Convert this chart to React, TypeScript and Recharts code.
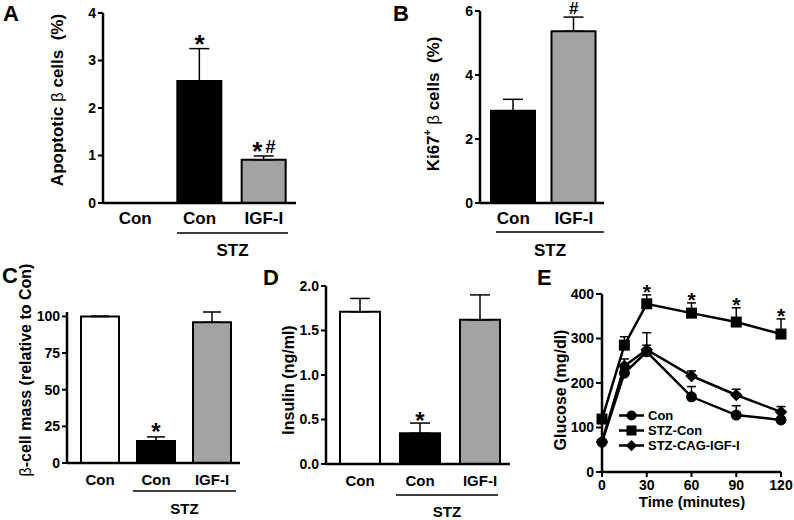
import React from "react";
import {
  BarChart,
  Bar,
  Cell,
  LineChart,
  Line,
  XAxis,
  YAxis,
  ErrorBar,
  ReferenceDot,
  Legend,
} from "recharts";

const FONT = '"Liberation Sans", Arial, Helvetica, sans-serif';
const GREY = "#a3a3a3";

// A - apoptotic beta cells (%)
const aGroups = ["Con", "STZ-Con", "STZ-IGF-I"];
const aTicks = ["Con", "Con", "IGF-I"];
const aValues = [0, 2.57, 0.91];
const aErrors = [0, 0.68, 0.08];
const aMarks = ["", "*", "*#"];

// B - Ki67+ beta cells (%)
const bGroups = ["STZ-Con", "STZ-IGF-I"];
const bTicks = ["Con", "IGF-I"];
const bValues = [2.88, 5.37];
const bErrors = [0.36, 0.44];
const bMarks = ["", "#"];

// C - beta-cell mass (relative to Con)
const cGroups = ["Con", "STZ-Con", "STZ-IGF-I"];
const cTicks = ["Con", "Con", "IGF-I"];
const cValues = [100, 15, 96];
const cErrors = [0, 2.8, 7];
const cMarks = ["", "*", ""];

// D - insulin (ng/ml)
const dGroups = ["Con", "STZ-Con", "STZ-IGF-I"];
const dTicks = ["Con", "Con", "IGF-I"];
const dValues = [1.71, 0.345, 1.62];
const dErrors = [0.15, 0.115, 0.28];
const dMarks = ["", "*", ""];

// E - glucose tolerance (mg/dl)
const timePoints = [0, 15, 30, 60, 90, 120];
const conGlucose = [67, 222, 270, 169, 128, 117];
const conErr = [3, 10, 43, 23, 21, 5];
const stzGlucose = [119, 285, 378, 357, 337, 310];
const stzErr = [8, 19, 20, 23, 32, 34];
const igfGlucose = [68, 238, 275, 216, 173, 135];
const igfErr = [4, 16, 10, 11, 13, 12];
const stzStars = [false, false, true, true, true, true];

const axisLine = { stroke: "#000", strokeWidth: 2.5 };
const tickLine = { stroke: "#000", strokeWidth: 2 };
const tickText = (size: number) => ({
  fill: "#000",
  fontSize: size,
  fontWeight: 700,
  fontFamily: FONT,
});

// significance marks: big asterisk, normal-size hash raised to the star's middle
const markLabel = (mark: string, starSize: number, hashSize: number, gap: number) =>
  (props: any) => {
    const vb = props.viewBox || {};
    const x = vb.x + (vb.width || 0) / 2;
    const y = vb.y - gap;
    return (
      <text x={x} y={y} textAnchor="middle" fill="#000" fontFamily={FONT} fontWeight={700}>
        {mark.split("").map((ch, i) => (
          <tspan
            key={i}
            fontSize={ch === "*" ? starSize : hashSize}
            dx={i > 0 ? 3 : 0}
            dy={i > 0 ? -7 : 0}
          >
            {ch}
          </tspan>
        ))}
      </text>
    );
  };

const Y_W = 44;
const M_TOP = 16;
const M_RIGHT = 8;
const X_H = 40;

type BarPanelProps = {
  left: number;
  top: number;
  plotW: number;
  plotH: number;
  padLeft: number;
  groups: string[];
  ticks: string[];
  values: number[];
  errors: number[];
  marks: string[];
  fills: string[];
  domain: [number, number];
  yTicks: number[];
  barSize: number;
  capWidth: number;
  catFont: number;
  catMargin: number;
  starSize: number;
  hashSize: number;
  markGap: number;
  fmt?: (v: number) => string;
};

const BarPanel = (p: BarPanelProps) => {
  const data = p.groups.map((g, i) => ({
    group: g,
    value: p.values[i],
    err: [0, p.errors[i]],
  }));
  return (
    <div style={{ position: "absolute", left: p.left - Y_W, top: p.top - M_TOP }}>
      <BarChart
        width={p.plotW + Y_W + M_RIGHT}
        height={p.plotH + M_TOP + X_H}
        data={data}
        margin={{ top: M_TOP, right: M_RIGHT, left: 0, bottom: 0 }}
      >
        <XAxis
          dataKey="group"
          height={X_H}
          interval={0}
          padding={{ left: p.padLeft, right: 0 }}
          axisLine={axisLine}
          tickLine={false}
          tickSize={6}
          tickMargin={p.catMargin}
          tick={tickText(p.catFont)}
          tickFormatter={(_v: string, i: number) => p.ticks[i]}
        />
        <YAxis
          width={Y_W}
          domain={p.domain}
          ticks={p.yTicks}
          interval={0}
          axisLine={axisLine}
          tickLine={tickLine}
          tickSize={5}
          tickMargin={2}
          tick={tickText(14)}
          tickFormatter={p.fmt}
        />
        <Bar dataKey="value" barSize={p.barSize} stroke="#000" strokeWidth={2} isAnimationActive={false}>
          {data.map((d, i) => (
            <Cell key={d.group} fill={p.fills[i]} />
          ))}
          <ErrorBar dataKey="err" direction="y" width={p.capWidth} stroke="#000" strokeWidth={1.5} />
        </Bar>
        {p.marks.map((m, i) =>
          m ? (
            <ReferenceDot
              key={i}
              x={p.groups[i]}
              y={p.values[i] + p.errors[i]}
              r={0}
              fill="none"
              stroke="none"
              label={markLabel(m, p.starSize, p.hashSize, p.markGap)}
            />
          ) : null
        )}
      </BarChart>
    </div>
  );
};

type Shape = "circle" | "square" | "diamond";

const Marker = ({ shape, cx, cy, s }: { shape: Shape; cx: number; cy: number; s: number }) => {
  if (shape === "circle") return <circle cx={cx} cy={cy} r={s} fill="#000" />;
  if (shape === "square")
    return <rect x={cx - s} y={cy - s} width={2 * s} height={2 * s} fill="#000" />;
  const d = s * 1.25;
  return (
    <polygon
      points={`${cx},${cy - d} ${cx + d},${cy} ${cx},${cy + d} ${cx - d},${cy}`}
      fill="#000"
    />
  );
};

const eSeries: { key: string; err: string; name: string; shape: Shape; size: number }[] = [
  { key: "con", err: "conErr", name: "Con", shape: "circle", size: 5.5 },
  { key: "stz", err: "stzErr", name: "STZ-Con", shape: "square", size: 5.5 },
  { key: "igf", err: "igfErr", name: "STZ-CAG-IGF-I", shape: "diamond", size: 5 },
];

const GlucoseLegend = () => (
  <div style={{ fontFamily: FONT, fontWeight: 700, fontSize: 13, lineHeight: "15px" }}>
    {eSeries.map((s) => (
      <div key={s.key} style={{ display: "flex", alignItems: "center", height: 15 }}>
        <svg width={30} height={15}>
          <line x1={1} x2={26} y1={7.5} y2={7.5} stroke="#000" strokeWidth={2.5} />
          <Marker shape={s.shape} cx={13.5} cy={7.5} s={s.size - 0.5} />
        </svg>
        <span>{s.name}</span>
      </div>
    ))}
  </div>
);

const GlucosePanel = () => {
  const data = timePoints.map((t, i) => ({
    t,
    con: conGlucose[i],
    conErr: [0, conErr[i]],
    stz: stzGlucose[i],
    stzErr: [0, stzErr[i]],
    igf: igfGlucose[i],
    igfErr: [0, igfErr[i]],
  }));
  const left = 602;
  const top = 294;
  const plotW = 179;
  const plotH = 178;
  return (
    <div style={{ position: "absolute", left: left - Y_W, top: top - 14 }}>
      <LineChart
        width={plotW + Y_W + 14}
        height={plotH + 14 + 48}
        data={data}
        margin={{ top: 14, right: 14, left: 0, bottom: 0 }}
      >
        <XAxis
          dataKey="t"
          type="number"
          domain={[0, 120]}
          ticks={[0, 30, 60, 90, 120]}
          interval={0}
          height={48}
          axisLine={axisLine}
          tickLine={tickLine}
          tickSize={5}
          tickMargin={3}
          tick={tickText(14)}
        />
        <YAxis
          width={Y_W}
          domain={[0, 400]}
          ticks={[0, 100, 200, 300, 400]}
          interval={0}
          axisLine={axisLine}
          tickLine={tickLine}
          tickSize={6}
          tickMargin={2}
          tick={tickText(14)}
        />
        {eSeries.map((s) => (
          <Line
            key={s.key}
            dataKey={s.key}
            name={s.name}
            stroke="#000"
            strokeWidth={2.5}
            isAnimationActive={false}
            dot={(props: any) => (
              <Marker key={`${s.key}-${props.index}`} shape={s.shape} cx={props.cx} cy={props.cy} s={s.size} />
            )}
          >
            <ErrorBar dataKey={s.err} direction="y" width={4.5} stroke="#000" strokeWidth={1.5} />
          </Line>
        ))}
        {timePoints.map((t, i) =>
          stzStars[i] ? (
            <ReferenceDot
              key={t}
              x={t}
              y={stzGlucose[i] + stzErr[i]}
              r={0}
              fill="none"
              stroke="none"
              label={markLabel("*", 21, 15, -4)}
            />
          ) : null
        )}
        <Legend
          layout="vertical"
          align="center"
          verticalAlign="middle"
          content={() => <GlucoseLegend />}
          wrapperStyle={{ left: 60, top: 128, width: "auto" }}
        />
      </LineChart>
    </div>
  );
};

const Overlay = () => {
  const t = { fontFamily: FONT, fontWeight: 700, fill: "#000" } as const;
  const vTitle = (cx: number, cy: number, size: number, children: React.ReactNode) => (
    <text
      transform={`translate(${cx},${cy}) rotate(-90)`}
      textAnchor="middle"
      dominantBaseline="central"
      fontSize={size}
      style={{ ...t, whiteSpace: "pre" }}
    >
      {children}
    </text>
  );
  const stz = (x1: number, x2: number, y: number, ty: number, size: number) => (
    <g>
      <line x1={x1} x2={x2} y1={y} y2={y} stroke="#000" strokeWidth={1.5} />
      <text x={(x1 + x2) / 2} y={ty} textAnchor="middle" fontSize={size} style={t}>
        STZ
      </text>
    </g>
  );
  return (
    <svg
      width={794}
      height={520}
      style={{ position: "absolute", left: 0, top: 0, pointerEvents: "none" }}
    >
      <text x={3} y={21} fontSize={22} style={t}>A</text>
      <text x={393} y={21} fontSize={22} style={t}>B</text>
      <text x={2} y={283} fontSize={22} style={t}>C</text>
      <text x={263} y={285} fontSize={22} style={t}>D</text>
      <text x={537} y={285} fontSize={22} style={t}>E</text>

      {vTitle(57, 100, 17, <>
        {"Apoptotic "}
        <tspan fontWeight={400}>β</tspan>
        {" cells  (%)"}
      </>)}
      {vTitle(433, 104, 17, <>
        {"Ki67"}
        <tspan dy={-6} fontSize={10}>+</tspan>
        <tspan dy={6}>{" "}</tspan>
        <tspan fontWeight={400}>β</tspan>
        {" cells  (%)"}
      </>)}
      {vTitle(25, 370, 16, <>
        <tspan fontWeight={400}>β</tspan>
        {"-cell mass (relative to Con)"}
      </>)}
      {vTitle(288, 380, 16, "Insulin (ng/ml)")}
      {vTitle(560, 390, 16, "Glucose (mg/dl)")}

      {stz(177, 288, 233, 256, 17)}
      {stz(496, 604, 232, 256, 17)}
      {stz(133, 236, 491, 514, 15)}
      {stz(396, 498, 495, 517, 15)}

      <text x={692} y={507} textAnchor="middle" fontSize={15} style={t}>
        Time (minutes)
      </text>
    </svg>
  );
};

const App = () => (
  <div
    style={{
      position: "absolute",
      left: 0,
      top: 0,
      width: 794,
      height: 520,
      background: "#fff",
      fontFamily: FONT,
    }}
  >
    <BarPanel
      left={103} top={13} plotW={193} plotH={190} padLeft={0}
      groups={aGroups} ticks={aTicks} values={aValues} errors={aErrors} marks={aMarks}
      fills={["#ffffff", "#000000", GREY]}
      domain={[0, 4]} yTicks={[0, 1, 2, 3, 4]}
      barSize={44} capWidth={10} catFont={17} catMargin={3}
      starSize={26} hashSize={18} markGap={-4}
    />
    <BarPanel
      left={480} top={11} plotW={124} plotH={192} padLeft={3}
      groups={bGroups} ticks={bTicks} values={bValues} errors={bErrors} marks={bMarks}
      fills={["#000000", GREY]}
      domain={[0, 6]} yTicks={[0, 2, 4, 6]}
      barSize={44} capWidth={10} catFont={17} catMargin={3}
      starSize={26} hashSize={17} markGap={3}
    />
    <BarPanel
      left={67} top={312} plotW={173} plotH={151} padLeft={5}
      groups={cGroups} ticks={cTicks} values={cValues} errors={cErrors} marks={cMarks}
      fills={["#ffffff", "#000000", GREY]}
      domain={[0, 100]} yTicks={[0, 25, 50, 75, 100]}
      barSize={38} capWidth={9} catFont={15} catMargin={5}
      starSize={24} hashSize={16} markGap={-3}
    />
    <BarPanel
      left={326} top={286} plotW={184} plotH={178} padLeft={4}
      groups={dGroups} ticks={dTicks} values={dValues} errors={dErrors} marks={dMarks}
      fills={["#ffffff", "#000000", GREY]}
      domain={[0, 2]} yTicks={[0, 0.5, 1, 1.5, 2]}
      barSize={40} capWidth={10} catFont={15} catMargin={5}
      starSize={24} hashSize={16} markGap={-6}
      fmt={(v: number) => v.toFixed(1)}
    />
    <GlucosePanel />
    <Overlay />
  </div>
);

export default App;
